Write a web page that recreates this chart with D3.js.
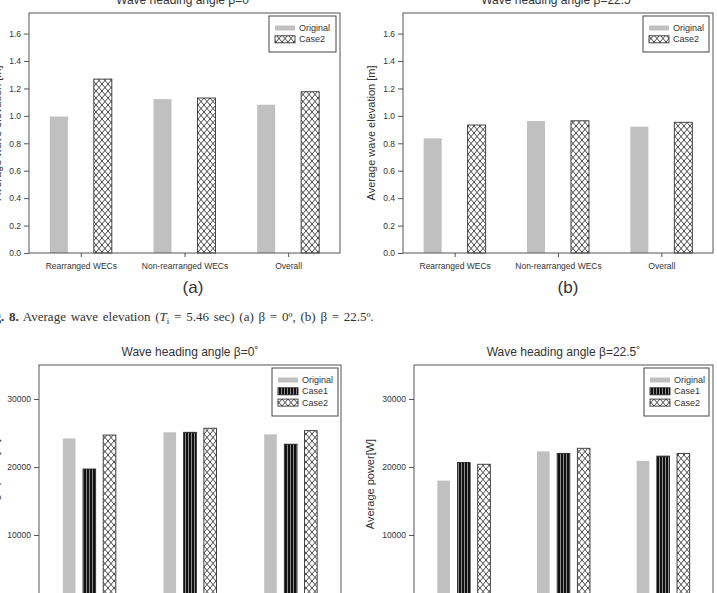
<!DOCTYPE html>
<meta charset="utf-8">
<style>
body { margin: 0; background: #fff; }
svg text { font-family: "Liberation Sans", Arial, sans-serif; fill: #333; }
.axis path { display: none; }
.axis line { stroke: #555; }
</style>
<svg width="717" height="593"></svg>
<script src="https://d3js.org/d3.v7.min.js"></script>
<script>

var categories = ["Rearranged WECs", "Non-rearranged WECs", "Overall"];
var elevTicks = [0, 0.2, 0.4, 0.6, 0.8, 1.0, 1.2, 1.4, 1.6];
var powerTicks = [0, 10000, 20000, 30000];

// average wave elevation [m]
var elevA_original = [0.995, 1.122, 1.081];
var elevA_case2    = [1.268, 1.130, 1.176];
var elevB_original = [0.836, 0.962, 0.921];
var elevB_case2    = [0.933, 0.964, 0.953];

// average power [W]
var powerA_original = [24200, 25100, 24800];
var powerA_case1    = [19700, 25100, 23350];
var powerA_case2    = [24700, 25700, 25350];
var powerB_original = [18000, 22300, 20900];
var powerB_case1    = [20650, 22000, 21600];
var powerB_case2    = [20400, 22750, 22000];

var svg = d3.select("svg");

// fill patterns
var defs = svg.append("defs");
var cross = defs.append("pattern").attr("id", "cross")
    .attr("patternUnits", "userSpaceOnUse").attr("width", 6).attr("height", 7);
cross.append("rect").attr("width", 6).attr("height", 7).attr("fill", "#fff");
cross.append("path").attr("d", "M0,0L6,7M6,0L0,7M-1,6L1,8M5,-1L7,1M-1,1L1,-1M5,8L7,6")
    .attr("stroke", "#333").attr("stroke-width", 0.9).attr("fill", "none");

var stripes = defs.append("pattern").attr("id", "stripes")
    .attr("patternUnits", "userSpaceOnUse").attr("width", 3).attr("height", 10);
stripes.append("rect").attr("width", 3).attr("height", 10).attr("fill", "#111");
stripes.append("rect").attr("x", 2).attr("width", 1).attr("height", 10).attr("fill", "#8c8c8c");

var styles = {
  "Original": { fill: "#c0c0c0", stroke: "none" },
  "Case1":    { fill: "url(#stripes)", stroke: "#222" },
  "Case2":    { fill: "url(#cross)", stroke: "#333" }
};

var panels = [
  { left: 29, right: 340, top: 13, bottom: 253, ymax: 1.75, ticks: elevTicks, fmt: d3.format(".1f"),
    series: [["Original", elevA_original], ["Case2", elevA_case2]],
    groupW: 62, padIn: 0.59, title: "Wave heading angle β=0˚", ylabel: "Average wave elevation [m]",
    labelX: -3, legend: { x: 269, y: 16, w: 67, h: 36 }, xaxis: true },
  { left: 403, right: 713, top: 13, bottom: 253, ymax: 1.75, ticks: elevTicks, fmt: d3.format(".1f"),
    series: [["Original", elevB_original], ["Case2", elevB_case2]],
    groupW: 62, padIn: 0.59, title: "Wave heading angle β=22.5˚", ylabel: "Average wave elevation [m]",
    labelX: 371, legend: { x: 643, y: 16, w: 66, h: 36 }, xaxis: true },
  { left: 39, right: 341, top: 365, bottom: 603, ymax: 35000, ticks: powerTicks, fmt: d3.format("d"),
    series: [["Original", powerA_original], ["Case1", powerA_case1], ["Case2", powerA_case2]],
    groupW: 53, padIn: 0.375, title: "Wave heading angle β=0˚", ylabel: "Average power[W]",
    labelX: -5, legend: { x: 272, y: 368, w: 66, h: 48 }, xaxis: false },
  { left: 414, right: 713, top: 365, bottom: 603, ymax: 35000, ticks: powerTicks, fmt: d3.format("d"),
    series: [["Original", powerB_original], ["Case1", powerB_case1], ["Case2", powerB_case2]],
    groupW: 53, padIn: 0.375, title: "Wave heading angle β=22.5˚", ylabel: "Average power[W]",
    labelX: 370, legend: { x: 644, y: 368, w: 65, h: 48 }, xaxis: false }
];

panels.forEach(function(p) {
  var g = svg.append("g");
  var names = p.series.map(function(s) { return s[0]; });

  var x0 = d3.scalePoint().domain(categories).range([p.left, p.right]).padding(0.5);
  var x1 = d3.scaleBand().domain(names).range([-p.groupW / 2, p.groupW / 2]).paddingInner(p.padIn);
  var y = d3.scaleLinear().domain([0, p.ymax]).range([p.bottom, p.top]);

  // bars
  p.series.forEach(function(s) {
    g.selectAll(null)
      .data(s[1])
      .enter().append("rect")
        .attr("x", function(d, i) { return x0(categories[i]) + x1(s[0]); })
        .attr("y", function(d) { return y(d); })
        .attr("width", x1.bandwidth())
        .attr("height", function(d) { return y(0) - y(d); })
        .attr("fill", styles[s[0]].fill)
        .attr("stroke", styles[s[0]].stroke)
        .attr("stroke-width", 0.9);
  });

  // frame
  g.append("rect")
    .attr("x", p.left).attr("y", p.top)
    .attr("width", p.right - p.left).attr("height", p.bottom - p.top)
    .attr("fill", "none").attr("stroke", "#555").attr("stroke-width", 1);

  var ya = g.append("g").attr("class", "axis")
    .attr("transform", "translate(" + p.left + ",0)")
    .call(d3.axisLeft(y).tickValues(p.ticks).tickFormat(p.fmt).tickSize(5).tickPadding(3));
  ya.selectAll("text").style("font-size", "8.5px").attr("fill", "#333");

  if (p.xaxis) {
    var xa = g.append("g").attr("class", "axis")
      .attr("transform", "translate(0," + p.bottom + ")")
      .call(d3.axisBottom(x0).tickSize(4).tickPadding(6));
    xa.selectAll("text").style("font-size", "8.5px").attr("fill", "#333");
  }

  // title
  g.append("text")
    .attr("x", (p.left + p.right) / 2).attr("y", p.top - 9)
    .attr("text-anchor", "middle")
    .style("font-size", "12px").attr("fill", "#222")
    .text(p.title);

  // y label
  g.append("text")
    .attr("transform", "translate(" + p.labelX + "," + (p.top + p.bottom) / 2 + ") rotate(-90)")
    .attr("text-anchor", "middle").attr("dy", "0.35em")
    .style("font-size", "11px").attr("fill", "#333")
    .text(p.ylabel);

  // legend
  var L = p.legend;
  g.append("rect")
    .attr("x", L.x).attr("y", L.y).attr("width", L.w).attr("height", L.h)
    .attr("fill", "#fff").attr("stroke", "#444").attr("stroke-width", 1);
  names.forEach(function(n, i) {
    var cy = L.y + 12 + i * 11.3;
    var h = n == "Original" ? 5 : 7;
    g.append("rect")
      .attr("x", L.x + 6).attr("y", cy - h / 2).attr("width", 20).attr("height", h)
      .attr("fill", styles[n].fill).attr("stroke", styles[n].stroke).attr("stroke-width", 0.9);
    g.append("text")
      .attr("x", L.x + 30).attr("y", cy).attr("dy", "0.35em")
      .style("font-size", "9px").attr("fill", "#333")
      .text(n);
  });
});

// sub-figure tags and caption
svg.append("text").attr("x", 193).attr("y", 293).attr("text-anchor", "middle")
  .style("font-size", "17px").attr("fill", "#222").text("(a)");
svg.append("text").attr("x", 568).attr("y", 293).attr("text-anchor", "middle")
  .style("font-size", "17px").attr("fill", "#222").text("(b)");

var cap = svg.append("text").attr("x", -17).attr("y", 321)
  .style("font-family", '"Liberation Serif", "Times New Roman", serif')
  .style("font-size", "13px").style("word-spacing", "1.5px").attr("fill", "#222");
cap.append("tspan").style("font-weight", "bold").text("Fig. 8.");
cap.append("tspan").text(" Average wave elevation (");
cap.append("tspan").style("font-style", "italic").text("T");
cap.append("tspan").attr("dy", 3).style("font-size", "9px").text("i");
cap.append("tspan").attr("dy", -3).text(" = 5.46 sec) (a) β = 0º, (b) β = 22.5º.");

</script>
